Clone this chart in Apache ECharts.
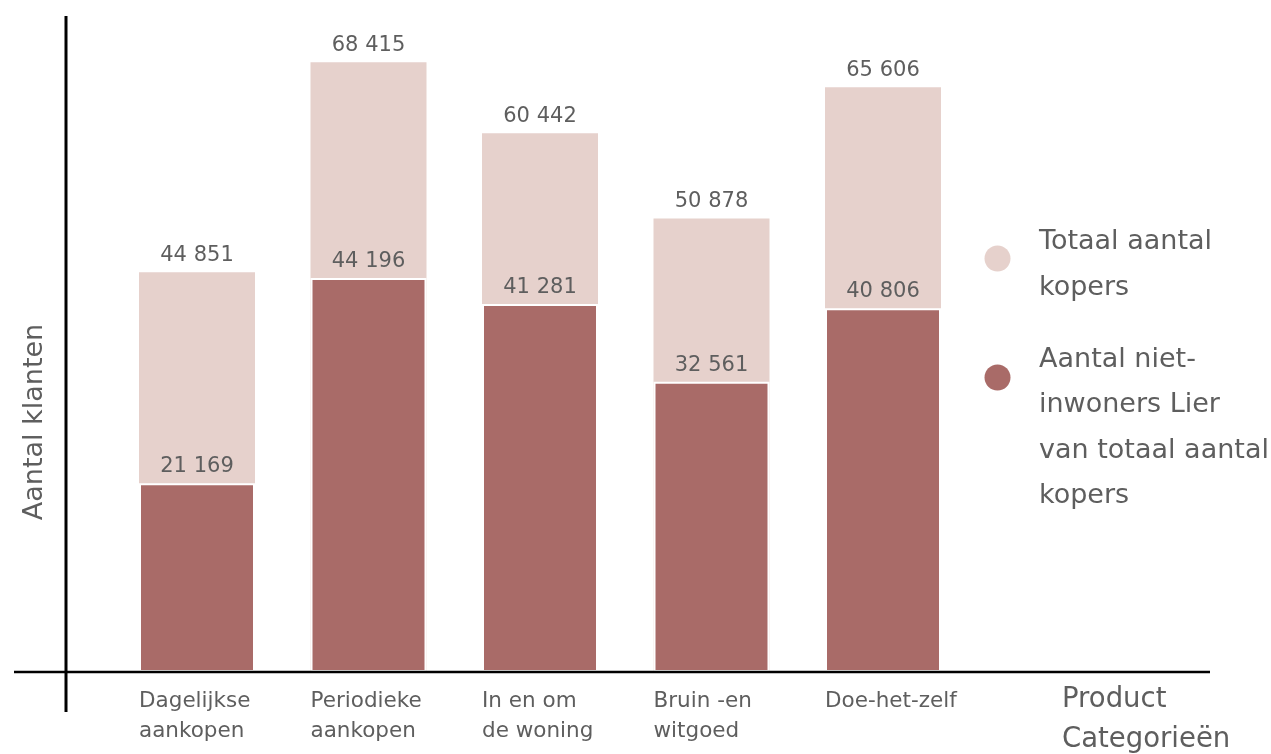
<!DOCTYPE html>
<html>
<head>
<meta charset="utf-8">
<script src="https://cdn.jsdelivr.net/npm/echarts@6/dist/echarts.min.js"></script>
<style>
  html, body { margin: 0; padding: 0; background: #ffffff; }
  #chart { width: 1271px; height: 754px; }
</style>
</head>
<body>
<div id="chart"></div>
<script>
// Product categories (two-line axis labels)
const categories = [
  'Dagelijkse\naankopen',
  'Periodieke\naankopen',
  'In en om\nde woning',
  'Bruin -en\nwitgoed',
  'Doe-het-zelf'
];
// Total number of buyers per category
const totalBuyers = [44851, 68415, 60442, 50878, 65606];
// Buyers not living in Lier, out of the total
const nonResidents = [21169, 44196, 41281, 32561, 40806];

const seriesNames = ['Totaal aantal\nkopers', 'Aantal niet-\ninwoners Lier\nvan totaal aantal\nkopers'];

const FONT = 'DejaVu Sans';
const TEXT = '#5e5e5e';
const LIGHT = '#e6d1cc';
const DARK = '#a96b68';

const fmt = v => String(v).replace(/\B(?=(\d{3})+(?!\d))/g, ' ');

const chart = echarts.init(document.getElementById('chart'));

const labelStyle = {
  show: true,
  position: 'top',
  distance: 6,
  fontFamily: FONT,
  fontSize: 21,
  color: TEXT,
  formatter: p => fmt(p.value)
};

chart.setOption({
  backgroundColor: '#ffffff',
  animation: false,
  grid: { left: 111.25, right: 302.25, top: 48, bottom: 82 },
  xAxis: {
    type: 'category',
    data: categories,
    axisLine: { show: false },
    axisTick: { show: false },
    axisLabel: {
      margin: 14,
      interval: 0,
      formatter: v => v.split('\n').map(s => '{a|' + s + '}').join('\n'),
      rich: {
        a: {
          width: 116,
          align: 'left',
          fontFamily: FONT,
          fontSize: 21.5,
          lineHeight: 30,
          color: TEXT
        }
      }
    }
  },
  yAxis: {
    type: 'value',
    min: 0,
    max: 70000,
    show: false,
    splitLine: { show: false }
  },
  series: [
    {
      name: seriesNames[0],
      type: 'bar',
      data: totalBuyers,
      barWidth: 116,
      itemStyle: { color: LIGHT },
      label: labelStyle,
      z: 2
    },
    {
      name: seriesNames[1],
      type: 'bar',
      data: nonResidents,
      barWidth: 116,
      barGap: '-100%',
      itemStyle: { color: DARK, borderColor: '#ffffff', borderWidth: 2 },
      label: labelStyle,
      z: 3
    }
  ],
  graphic: [
    // axis lines, extending past the plot area
    { type: 'line', z: 10, shape: { x1: 66, y1: 16, x2: 66, y2: 712 },
      style: { stroke: '#000000', lineWidth: 3 } },
    { type: 'line', z: 10, shape: { x1: 14, y1: 672, x2: 1210, y2: 672 },
      style: { stroke: '#000000', lineWidth: 2.5 } },
    // axis titles
    { type: 'text', z: 10, x: 35, y: 422, rotation: Math.PI / 2,
      style: { text: 'Aantal klanten', fontFamily: FONT, fontSize: 27, fill: TEXT,
               align: 'center', verticalAlign: 'middle' } },
    { type: 'text', z: 10, x: 1062, y: 680,
      style: { text: 'Product\nCategorieën', fontFamily: FONT, fontSize: 27.5, lineHeight: 40,
               fill: TEXT, align: 'left', verticalAlign: 'top' } },
    // legend
    { type: 'circle', z: 10, shape: { cx: 997.5, cy: 258.5, r: 13 }, style: { fill: LIGHT } },
    { type: 'text', z: 10, x: 1039, y: 219.5,
      style: { text: seriesNames[0], fontFamily: FONT, fontSize: 27, lineHeight: 45.5,
               fill: TEXT, align: 'left', verticalAlign: 'top' } },
    { type: 'circle', z: 10, shape: { cx: 997.5, cy: 377.5, r: 13 }, style: { fill: DARK } },
    { type: 'text', z: 10, x: 1039, y: 337,
      style: { text: seriesNames[1], fontFamily: FONT, fontSize: 27, lineHeight: 45.5,
               fill: TEXT, align: 'left', verticalAlign: 'top' } }
  ]
});
</script>
</body>
</html>
